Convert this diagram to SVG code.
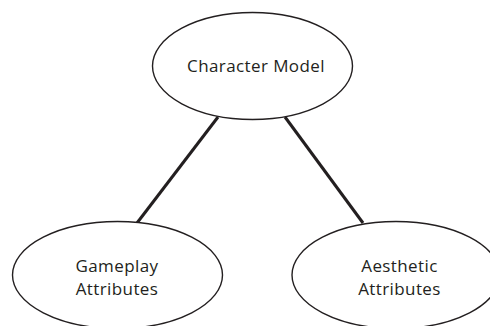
<svg xmlns="http://www.w3.org/2000/svg" width="490" height="326" viewBox="0 0 490 326">
  <style>
    .node ellipse { fill: #ffffff; stroke: #231f20; stroke-width: 1.4; }
    .node text { font-family: "Open Sans", "Liberation Sans", sans-serif; font-size: 17px; letter-spacing: 0.4px; fill: #231f20; text-anchor: middle; }
    .edges line { stroke: #231f20; stroke-width: 3; stroke-linecap: butt; }
  </style>
  <rect width="490" height="326" fill="#ffffff"/>
  <g class="edges" id="connectors">
    <line x1="218" y1="117" x2="137" y2="223"/>
    <line x1="285" y1="117" x2="363" y2="223"/>
  </g>
  <g class="node" id="character-model">
    <ellipse cx="252.5" cy="66" rx="100" ry="53.5"/>
    <text x="256" y="72">Character Model</text>
  </g>
  <g class="node" id="gameplay-attributes">
    <ellipse cx="117.5" cy="275" rx="105" ry="53.5"/>
    <text x="117" y="272">Gameplay</text>
    <text x="117" y="295">Attributes</text>
  </g>
  <g class="node" id="aesthetic-attributes">
    <ellipse cx="396" cy="275" rx="104" ry="53.5"/>
    <text x="399.5" y="272">Aesthetic</text>
    <text x="399.5" y="295">Attributes</text>
  </g>
</svg>
